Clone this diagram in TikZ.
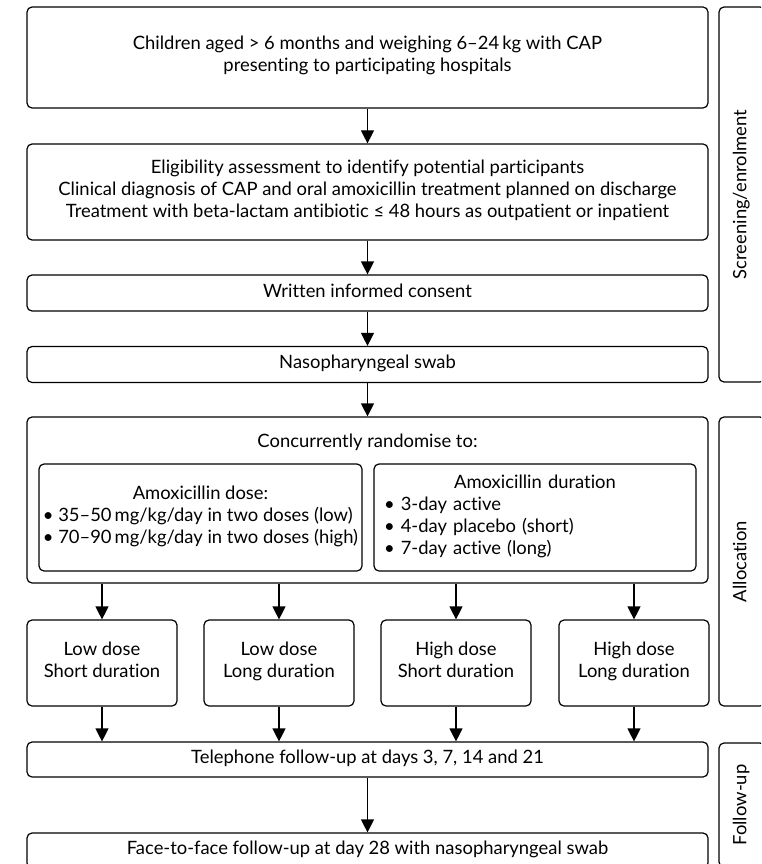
\documentclass[tikz,border=0pt]{standalone}
\usepackage{fontspec}
\setmainfont[Ligatures=NoCommon]{Lato}
\usetikzlibrary{arrows.meta}
\tikzset{
  box/.style={draw, line width=1.2pt, rounded corners=5pt, align=center, inner sep=0pt,
    execute at begin node=\strut, execute at end node=\strut},
  wide/.style={box, minimum width=681pt},
  arm/.style={box, minimum width=150pt, minimum height=86pt},
  bar/.style={box, rotate=90, minimum height=46pt},
  arr/.style={-{Triangle[length=13pt,width=13pt]}, line width=1.2pt},
}
\begin{document}
\begin{tikzpicture}[x=1pt,y=-1pt,font=\fontsize{18.4}{22}\selectfont]
\useasboundingbox (0,0) rectangle (761,864);
\clip (0,0) rectangle (761,864);
\node[wide,minimum height=101pt] (present) at (367.5,57.5) {Children aged > 6 months and weighing 6–24\,kg with CAP\\presenting to participating hospitals};
\node[wide,minimum height=96pt] (elig) at (367.5,192) {Eligibility assessment to identify potential participants\\Clinical diagnosis of CAP and oral amoxicillin treatment planned on discharge\\Treatment with beta-lactam antibiotic ≤ 48 hours as outpatient or inpatient};
\node[wide,minimum height=36pt] (consent) at (367.5,293) {Written informed consent};
\node[wide,minimum height=36pt] (swab) at (367.5,364.5) {Nasopharyngeal swab};
\node[wide,minimum height=166pt] (rand) at (367.5,500) {};
\node (randlbl) at (367.5,442) {Concurrently randomise to:};
\node[box,minimum width=323pt,minimum height=107pt] (dose) at (200.5,517.5)
  {\begin{tabular}{@{}l@{}}\multicolumn{1}{c}{Amoxicillin dose:}\\\textbullet\ 35–50\,mg/kg/day in two doses (low)\\\textbullet\ 70–90\,mg/kg/day in two doses (high)\end{tabular}};
\node[box,minimum width=322pt,minimum height=107pt,text width=302pt,align=left] (dur) at (535,517.5)
  {\makebox[\linewidth]{Amoxicillin duration}\\\textbullet\ 3-day active\\\textbullet\ 4-day placebo (short)\\\textbullet\ 7-day active (long)};
\node[arm] (lowshort) at (102,663) {Low dose\\Short duration};
\node[arm] (lowlong) at (279,663) {Low dose\\Long duration};
\node[arm] (highshort) at (456,663) {High dose\\Short duration};
\node[arm] (highlong) at (634,663) {High dose\\Long duration};
\node[wide,minimum height=35pt] (phone) at (367.5,759.5) {Telephone follow-up at days 3, 7, 14 and 21};
\node[wide,minimum height=35pt] (face) at (367.5,850.5) {Face-to-face follow-up at day 28 with nasopharyngeal swab};
\node[bar,minimum width=375pt] (screen) at (742,194.5) {Screening/enrolment};
\node[bar,minimum width=289pt] (alloc) at (742,561.5) {Allocation};
\node[bar,minimum width=124pt] (follow) at (742,805) {Follow-up};
\draw[arr] (present) -- (elig);
\draw[arr] (elig) -- (consent);
\draw[arr] (consent) -- (swab);
\draw[arr] (swab) -- (rand);
\foreach \a in {lowshort,lowlong,highshort,highlong}{
  \draw[arr] (\a.north |- rand.south) -- (\a.north);
  \draw[arr] (\a.south) -- (\a.south |- phone.north);
}
\draw[arr] (phone) -- (face);
\end{tikzpicture}
\end{document}
